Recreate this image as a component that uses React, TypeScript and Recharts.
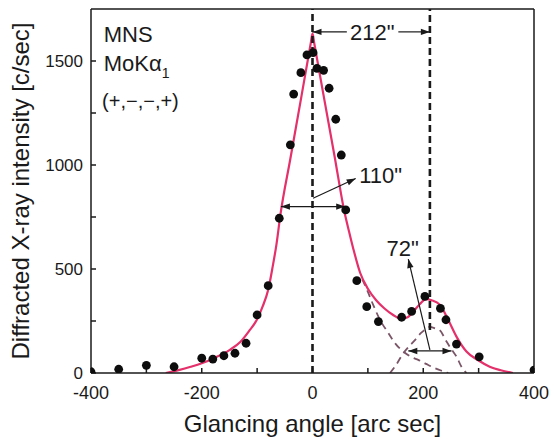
import { ComposedChart, Label, Line, ReferenceDot, ReferenceLine, Scatter, XAxis, YAxis } from 'recharts'

// measured points (glancing angle in arc sec, intensity in c/sec)
const dotAngle = [-400, -350, -300, -250, -200, -180, -160, -140, -120, -100, -80, -60, -40, -34, -21, -10, 1, 8, 20, 30, 42, 52, 60, 80, 98, 119, 161, 179, 203, 231, 241, 260, 301, 400]
const dotCounts = [6, 18, 37, 30, 71, 67, 83, 95, 143, 279, 420, 744, 1097, 1341, 1444, 1529, 1540, 1465, 1455, 1369, 1220, 1048, 784, 444, 319, 247, 268, 296, 368, 311, 256, 139, 78, 14]

// total fit (pink)
const fitAngle = [-265, -240, -220, -200, -175, -150, -130, -115, -100, -90, -80, -72, -65, -58, -40, -20, -3, 0, 3, 20, 40, 58, 66, 74, 86, 100, 115, 130, 145, 158, 170, 182, 194, 205, 215, 230, 245, 260, 278, 300, 320, 340, 362]
const fitCounts = [0, 15, 30, 47, 75, 110, 150, 200, 258, 320, 400, 510, 620, 760, 1030, 1330, 1588, 1633, 1588, 1335, 1040, 770, 680, 594, 482, 405, 350, 310, 280, 262, 266, 295, 332, 355, 350, 328, 256, 175, 103, 60, 30, 13, 0]

// main peak component, right tail (dashed)
const mainAngle = [90, 100, 110, 122, 137, 150, 164, 180, 191, 205, 218, 232, 245]
const mainCounts = [450, 390, 325, 255, 192, 140, 103, 75, 63, 44, 27, 12, 0]

// satellite peak component (dashed)
const satAngle = [140, 150, 164, 175, 185, 195, 203, 212, 221, 230, 242, 252, 260, 269, 278]
const satCounts = [0, 35, 95, 130, 158, 190, 208, 222, 215, 205, 151, 110, 79, 30, 0]

const angleTicks = [-400, -300, -200, -100, 0, 100, 200, 300, 400]
const countTicks = [0, 250, 500, 750, 1000, 1250, 1500]

const zip = (xs: number[], ys: number[]) => xs.map((x, i) => ({ x, y: ys[i] }))

const FONT = '"Liberation Sans", Arial, Helvetica, sans-serif'
const INK = '#1a1a1a'
const PINK = '#e4306b'
const MAUVE = '#7a5566'

function arrow(heads: 'start' | 'end' | 'both') {
  return (p: any) => {
    const { x1, y1, x2, y2 } = p
    const head = (tx: number, ty: number, fx: number, fy: number) => {
      const len = Math.hypot(tx - fx, ty - fy) || 1
      const ux = (tx - fx) / len
      const uy = (ty - fy) / len
      const bx = tx - ux * 9
      const by = ty - uy * 9
      return (
        <polygon
          points={`${tx},${ty} ${bx - uy * 3.2},${by + ux * 3.2} ${bx + uy * 3.2},${by - ux * 3.2}`}
          fill={INK}
        />
      )
    }
    return (
      <g>
        <line x1={x1} y1={y1} x2={x2} y2={y2} stroke={INK} strokeWidth={1.2} />
        {heads !== 'end' && head(x1, y1, x2, y2)}
        {heads !== 'start' && head(x2, y2, x1, y1)}
      </g>
    )
  }
}

function note(text: React.ReactNode, anchor: 'start' | 'middle' = 'middle', size = 22) {
  return (p: any) => (
    <text x={p.cx} y={p.cy} textAnchor={anchor} fontSize={size} fill={INK} fontFamily={FONT}>
      {text}
    </text>
  )
}

export default function App() {
  const dots = zip(dotAngle, dotCounts)
  const fit = zip(fitAngle, fitCounts)
  const main = zip(mainAngle, mainCounts)
  const sat = zip(satAngle, satCounts)
  const axisStroke = { stroke: INK, strokeWidth: 1.5 }

  return (
    <div style={{ position: 'absolute', left: 0, top: 0, width: 554, height: 440, background: '#fff', fontFamily: FONT }}>
      <ComposedChart width={554} height={440} margin={{ top: 8, right: 19, bottom: 27, left: 0 }}>
        <XAxis
          type="number"
          dataKey="x"
          domain={[-400, 400]}
          allowDataOverflow
          ticks={angleTicks}
          interval={0}
          tickFormatter={(v: number) => (v % 200 === 0 ? String(v) : '')}
          tickSize={-5}
          tickMargin={18}
          height={40}
          axisLine={axisStroke}
          tickLine={axisStroke}
          tick={{ fontSize: 18, fill: INK }}
        >
          <Label value="Glancing angle [arc sec]" position="bottom" offset={2} style={{ fontSize: 24, fill: INK }} />
        </XAxis>
        <XAxis
          xAxisId="top"
          orientation="top"
          type="number"
          dataKey="x"
          domain={[-400, 400]}
          allowDataOverflow
          ticks={angleTicks}
          interval={0}
          tickSize={-5}
          height={1}
          tick={false}
          axisLine={axisStroke}
          tickLine={axisStroke}
        />
        <YAxis
          type="number"
          dataKey="y"
          domain={[0, 1750]}
          allowDataOverflow
          ticks={countTicks}
          interval={0}
          tickFormatter={(v: number) => (v % 500 === 0 ? String(v) : '')}
          tickSize={-5}
          tickMargin={13}
          width={91}
          axisLine={axisStroke}
          tickLine={axisStroke}
          tick={{ fontSize: 17, fill: INK }}
        >
          <Label
            value="Diffracted X-ray intensity [c/sec]"
            position="insideLeft"
            angle={-90}
            offset={20}
            style={{ fontSize: 24, fill: INK, textAnchor: 'middle' }}
          />
        </YAxis>
        <YAxis
          yAxisId="right"
          orientation="right"
          type="number"
          dataKey="y"
          domain={[0, 1750]}
          allowDataOverflow
          ticks={countTicks}
          interval={0}
          tickSize={-5}
          width={1}
          tick={false}
          axisLine={axisStroke}
          tickLine={axisStroke}
        />

        <Line data={main} dataKey="y" type="monotone" stroke={MAUVE} strokeWidth={1.8} strokeDasharray="7 5" dot={false} isAnimationActive={false} />
        <Line data={sat} dataKey="y" type="monotone" stroke={MAUVE} strokeWidth={1.8} strokeDasharray="7 5" dot={false} isAnimationActive={false} />
        <Scatter
          data={dots}
          dataKey="y"
          isAnimationActive={false}
          shape={(p: any) => <circle cx={p.cx} cy={p.cy} r={4.4} fill="#0d0d0d" />}
        />
        <Line data={fit} dataKey="y" type="monotone" stroke={PINK} strokeWidth={2.2} dot={false} isAnimationActive={false} />

        <ReferenceLine x={0} stroke={INK} strokeWidth={2.6} strokeDasharray="7 4" />
        <ReferenceLine segment={[{ x: 212, y: 207 }, { x: 212, y: 1750 }]} stroke={INK} strokeWidth={2.6} strokeDasharray="7 4" />

        <ReferenceLine segment={[{ x: 0, y: 1640 }, { x: 62, y: 1640 }]} shape={arrow('start')} />
        <ReferenceLine segment={[{ x: 155, y: 1640 }, { x: 212, y: 1640 }]} shape={arrow('end')} />
        <ReferenceDot x={108} y={1601} shape={note('212"')} />

        <ReferenceLine segment={[{ x: -57, y: 800 }, { x: 59, y: 800 }]} shape={arrow('both')} />
        <ReferenceLine segment={[{ x: 1, y: 840 }, { x: 78, y: 935 }]} shape={arrow('end')} />
        <ReferenceDot x={123} y={913} shape={note('110"')} />

        <ReferenceLine segment={[{ x: 173, y: 106 }, { x: 251, y: 106 }]} shape={arrow('both')} />
        <ReferenceLine segment={[{ x: 212, y: 111 }, { x: 173, y: 548 }]} shape={arrow('end')} />
        <ReferenceDot x={163} y={562} shape={note('72"')} />

        <ReferenceDot x={-377} y={1590} shape={note('MNS', 'start')} />
        <ReferenceDot
          x={-377}
          y={1453}
          shape={note(
            <>
              MoKα<tspan dy={7} fontSize={14}>1</tspan>
            </>,
            'start',
          )}
        />
        <ReferenceDot x={-380} y={1274} shape={note('(+,−,−,+)', 'start', 20)} />
      </ComposedChart>
    </div>
  )
}
